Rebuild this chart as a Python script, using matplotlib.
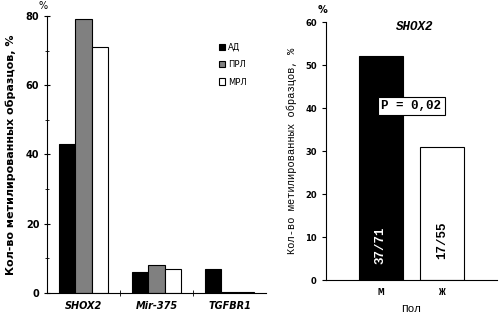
import numpy as np
import matplotlib.pyplot as plt
from matplotlib.ticker import MultipleLocator

genes = ['SHOX2', 'Mir-375', 'TGFBR1']
groups = ['АД', 'ПРЛ', 'МРЛ']
ad = [43, 6, 7]
prl = [79, 8, 0.3]
mrl = [71, 7, 0.3]

sex = ['М', 'Ж']
sex_pct = [52, 31]
sex_counts = ['37/71', '17/55']
p_text = 'P = 0,02'

fig = plt.figure(figsize=(5.02, 3.19), dpi=100)
ax1 = fig.add_axes([0.0936, 0.0815, 0.4364, 0.8685])
ax2 = fig.add_axes([0.649, 0.122, 0.341, 0.809])

# left panel
x = np.arange(len(genes))
w = 0.225
colors = ['black', 'grey', 'white']
for i, (vals, lab, c) in enumerate(zip([ad, prl, mrl], groups, colors)):
    ax1.bar(x + (i - 1) * w, vals, w, color=c, edgecolor='black', linewidth=0.8, label=lab)
ax1.set_xlim(-0.5, 2.5)
ax1.set_ylim(0, 80)
ax1.yaxis.set_major_locator(MultipleLocator(20))
ax1.yaxis.set_minor_locator(MultipleLocator(10))
ax1.set_xticks(x)
ax1.set_xticklabels(genes, fontstyle='italic', fontweight='bold', fontsize=7)
ax1.set_xticks([0.5, 1.5], minor=True)
ax1.tick_params(axis='x', which='major', length=0, pad=6)
ax1.tick_params(axis='x', which='minor', length=4, direction='inout')
ax1.tick_params(axis='y', which='major', length=4, labelsize=7, direction='inout')
ax1.tick_params(axis='y', which='minor', length=3, direction='inout')
for t in ax1.get_yticklabels():
    t.set_fontweight('bold')
for s in ['top', 'right']:
    ax1.spines[s].set_visible(False)
ax1.set_ylabel('Кол-во метилированных образцов, %', fontsize=8, fontweight='bold', labelpad=7)
ax1.text(-0.02, 1.025, '%', transform=ax1.transAxes, fontsize=7, ha='center')
ax1.legend(loc='upper left', bbox_to_anchor=(0.75, 0.93), frameon=False, fontsize=6,
           handlelength=0.8, handleheight=0.8, handletextpad=0.3, labelspacing=1.0)

# right panel
xs = np.arange(len(sex))
mono = 'Liberation Mono'
bars = ax2.bar(xs, sex_pct, 0.72, color=['black', 'white'], edgecolor='black', linewidth=0.8)
ax2.set_xlim(-0.9, 1.9)
ax2.set_ylim(0, 60)
ax2.yaxis.set_major_locator(MultipleLocator(10))
ax2.set_xticks(xs)
ax2.set_xticklabels(sex, family=mono, fontweight='bold', fontsize=8)
ax2.tick_params(axis='x', length=0, pad=5)
ax2.tick_params(axis='y', length=3, labelsize=6)
for t in ax2.get_yticklabels():
    t.set_fontweight('bold')
for s in ['top', 'right']:
    ax2.spines[s].set_visible(False)
ax2.set_ylabel('Кол-во метилированных образцов, %', family=mono, fontsize=7.5, labelpad=6)
ax2.set_xlabel('Пол', family=mono, fontsize=8, labelpad=5)
ax2.text(0.52, 0.98, 'SHOX2', transform=ax2.transAxes, family=mono, fontstyle='italic',
         fontweight='bold', fontsize=9, ha='center', va='center')
ax2.text(-0.02, 1.035, '%', transform=ax2.transAxes, fontsize=7, fontweight='bold', ha='center')
ax2.text(0.5, 40.5, p_text, family=mono, fontweight='bold', fontsize=9, ha='center', va='center',
         bbox=dict(boxstyle='square,pad=0.25', fc='white', ec='black', lw=0.8))
ax2.text(xs[0], 8, sex_counts[0], rotation=90, color='white', family=mono, fontweight='bold',
         fontsize=9, ha='center', va='center')
ax2.text(xs[1], 9.3, sex_counts[1], rotation=90, color='black', family=mono, fontweight='bold',
         fontsize=9, ha='center', va='center')

fig.savefig('out.png', dpi=100)
